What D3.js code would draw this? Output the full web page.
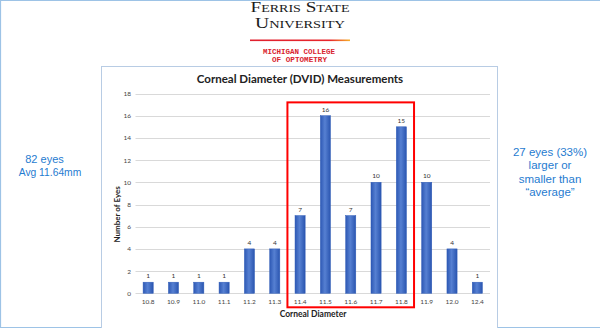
<!DOCTYPE html>
<html>
<head>
<meta charset="utf-8">
<script src="https://cdn.jsdelivr.net/npm/d3@7"></script>
<style>
  html, body { margin: 0; padding: 0; background: #fff; }
  svg { display: block; }
</style>
</head>
<body>
<svg id="slide" width="600" height="328"></svg>
<script>
// Corneal diameter (mm) histogram categories and eye counts
const diameters = ["10.8", "10.9", "11.0", "11.1", "11.2", "11.3", "11.4", "11.5", "11.6", "11.7", "11.8", "11.9", "12.0", "12.4"];
const eyeCounts = [1, 1, 1, 1, 4, 4, 7, 16, 7, 10, 15, 10, 4, 1];
const yTicks = [0, 2, 4, 6, 8, 10, 12, 14, 16, 18];
// Range of diameters highlighted with the red box
const highlighted = ["11.4", "11.8"];
const leftNote = ["82 eyes", "Avg 11.64mm"];
const rightNote = ["27 eyes (33%)", "larger or", "smaller than", "\u201caverage\u201d"];

const svg = d3.select("#slide");
const defs = svg.append("defs");

// slide frame
svg.append("path")
  .attr("d", "M0.5,327.5 V0.5 H600 M0,327.5 H600")
  .attr("fill", "none").attr("stroke", "#9dc3e6").attr("stroke-width", 1.2);

// ---- university header ----
const hdr = svg.append("g").attr("font-family", "'Liberation Serif', serif").attr("fill", "#1a1a1a");
hdr.append("text").attr("x", 300).attr("y", 12).attr("text-anchor", "middle")
  .attr("font-size", 15).style("font-variant", "small-caps")
  .attr("textLength", 99).attr("lengthAdjust", "spacingAndGlyphs")
  .text("Ferris State");
hdr.append("text").attr("x", 300).attr("y", 28).attr("text-anchor", "middle")
  .attr("font-size", 15).style("font-variant", "small-caps")
  .attr("textLength", 90).attr("lengthAdjust", "spacingAndGlyphs")
  .text("University");

const rule = defs.append("linearGradient").attr("id", "rule").attr("x1", "0").attr("x2", "1");
rule.append("stop").attr("offset", "0").attr("stop-color", "#e0202e");
rule.append("stop").attr("offset", "0.8").attr("stop-color", "#e8262c");
rule.append("stop").attr("offset", "1").attr("stop-color", "#f6b12a");
svg.append("rect").attr("x", 250).attr("y", 39.5).attr("width", 100).attr("height", 1.6).attr("fill", "url(#rule)");

const sub = svg.append("g").attr("font-family", "'Liberation Mono', monospace").attr("font-weight", 700)
  .attr("fill", "#d9232e").attr("font-size", 7).attr("text-anchor", "middle");
sub.append("text").attr("x", 299).attr("y", 53.5).attr("textLength", 72).attr("lengthAdjust", "spacingAndGlyphs").text("MICHIGAN COLLEGE");
sub.append("text").attr("x", 299.5).attr("y", 61.5).attr("textLength", 55).attr("lengthAdjust", "spacingAndGlyphs").text("OF OPTOMETRY");

// ---- side notes ----
const noteColor = "#1f7bd0";
svg.append("g").attr("font-family", "'Liberation Sans', Arial, sans-serif")
  .attr("fill", noteColor).attr("text-anchor", "middle")
  .selectAll("text").data(leftNote).join("text")
  .attr("x", (d, i) => i === 0 ? 44.5 : 50)
  .attr("font-size", (d, i) => i === 0 ? 11 : 10.3)
  .attr("y", (d, i) => 162.7 + i * 13.5).text(d => d);
svg.append("g").attr("font-family", "'Liberation Sans', Arial, sans-serif").attr("font-size", 11.5)
  .attr("fill", noteColor).attr("text-anchor", "middle")
  .selectAll("text").data(rightNote).join("text")
  .attr("x", 550).attr("y", (d, i) => 156 + i * 13.4).text(d => d);

// ---- chart panel ----
svg.append("rect").attr("x", 101.5).attr("y", 66.5).attr("width", 396).attr("height", 270)
  .attr("fill", "#fff").attr("stroke", "#b8cce4").attr("stroke-width", 1);

const chartFont = "Lato, 'Open Sans', sans-serif";
svg.append("text").attr("x", 300).attr("y", 83.3).attr("text-anchor", "middle")
  .attr("font-family", chartFont).attr("font-weight", 700).attr("font-size", 11.5)
  .attr("fill", "#222").text("Corneal Diameter (DVID) Measurements");

const x = d3.scaleBand().domain(diameters).range([135.5, 490]).paddingInner(0.6).paddingOuter(0.3);
const y = d3.scaleLinear().domain([0, 18]).range([293.3, 93.5]);

// gridlines
svg.append("g").selectAll("line").data(yTicks.filter(t => t > 0)).join("line")
  .attr("x1", 135.5).attr("x2", 490)
  .attr("y1", d => Math.round(y(d)) + 0.5).attr("y2", d => Math.round(y(d)) + 0.5)
  .attr("stroke", "#d9d9d9").attr("stroke-width", 1);

// y axis labels
const yAxis = svg.append("g").attr("transform", "translate(131,0)")
  .call(d3.axisLeft(y).tickValues(yTicks).tickSize(0).tickPadding(0));
yAxis.select(".domain").remove();
yAxis.selectAll("text").attr("font-family", chartFont).attr("font-size", 6.5).attr("fill", "#444");

// x axis
const xAxis = svg.append("g").attr("transform", `translate(0,${Math.round(y(0)) + 0.5})`)
  .call(d3.axisBottom(x).tickSize(0).tickPadding(6));
xAxis.select(".domain").attr("stroke", "#d9d9d9").attr("d", "M135.5,0H490");
xAxis.selectAll("text").attr("font-family", chartFont).attr("font-size", 6.5).attr("fill", "#444");

// bars
const grad = defs.append("linearGradient").attr("id", "bar").attr("x1", "0").attr("x2", "1");
grad.append("stop").attr("offset", "0").attr("stop-color", "#2d58b4");
grad.append("stop").attr("offset", "0.45").attr("stop-color", "#5680d2");
grad.append("stop").attr("offset", "1").attr("stop-color", "#2a55b0");

svg.append("g").selectAll("rect").data(diameters).join("rect")
  .attr("x", d => x(d)).attr("width", x.bandwidth())
  .attr("y", (d, i) => y(eyeCounts[i]))
  .attr("height", (d, i) => y(0) - y(eyeCounts[i]))
  .attr("fill", "url(#bar)").attr("stroke", "#2f5cb8").attr("stroke-width", 0.5);

// value labels
svg.append("g").attr("font-family", chartFont).attr("font-size", 6.5).attr("fill", "#333")
  .attr("text-anchor", "middle")
  .selectAll("text").data(diameters).join("text")
  .attr("x", d => x(d) + x.bandwidth() / 2)
  .attr("y", (d, i) => y(eyeCounts[i]) - 4)
  .text((d, i) => eyeCounts[i]);

// axis titles
svg.append("text").attr("transform", `translate(120,${(y(0) + y(18)) / 2 + 21}) rotate(-90)`)
  .attr("text-anchor", "middle").attr("font-family", chartFont).attr("font-weight", 700)
  .attr("font-size", 8).attr("fill", "#222").text("Number of Eyes");
svg.append("text").attr("x", 313).attr("y", 317).attr("text-anchor", "middle")
  .attr("font-family", chartFont).attr("font-weight", 700)
  .attr("font-size", 8.5).attr("fill", "#222").text("Corneal Diameter");

// highlight box around the 11.4–11.8 range
const step = x.step();
const boxL = x(highlighted[0]) - (step - x.bandwidth()) / 2;
const boxR = x(highlighted[1]) + x.bandwidth() + (step - x.bandwidth()) / 2;
svg.append("rect")
  .attr("x", boxL).attr("y", y(17.2))
  .attr("width", boxR - boxL).attr("height", y(0) + 14 - y(17.2))
  .attr("fill", "none").attr("stroke", "#ff0000").attr("stroke-width", 2);
</script>
</body>
</html>
